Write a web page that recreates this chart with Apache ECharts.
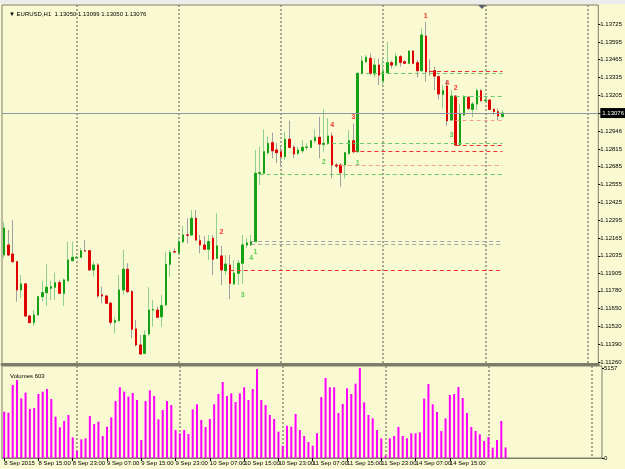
<!DOCTYPE html>
<html>
<head>
<meta charset="utf-8">
<title>EURUSD,H1</title>
<script src="https://cdn.jsdelivr.net/npm/echarts@6/dist/echarts.min.js"></script>
</head>
<body style="margin:0;background:#fafad2">
<div id="chart" style="width:625px;height:469px"></div>
<script>
// hourly bars, first bar 8 Sep 07:00, weekend skipped; chart shift leaves empty slots on the right
const DAYS = ['8 Sep', '9 Sep', '10 Sep', '11 Sep', '14 Sep', '15 Sep', '16 Sep'];
const FIRST_HOUR = 7;
const SLOTS = 140;

const OPEN = [
  1.12041, 1.12114, 1.12048, 1.11992, 1.11786, 1.11830, 1.11596, 1.11548, 1.11604, 1.11737,
  1.11766, 1.11798, 1.11806, 1.11839, 1.11762, 1.11854, 1.12000, 1.12021, 1.12024, 1.12072,
  1.12072, 1.11932, 1.11968, 1.11750, 1.11742, 1.11689, 1.11550, 1.11562, 1.11786, 1.11937,
  1.11774, 1.11502, 1.11385, 1.11324, 1.11465, 1.11640, 1.11640, 1.11591, 1.11677, 1.11973,
  1.12065, 1.12058, 1.12138, 1.12187, 1.12187, 1.12309, 1.12145, 1.12114, 1.12083, 1.12163,
  1.12017, 1.12034, 1.11927, 1.11968, 1.11830, 1.11908, 1.11981, 1.12114, 1.12114, 1.12138,
  1.12637, 1.12637, 1.12787, 1.12860, 1.12807, 1.12794, 1.12758, 1.12885, 1.12826, 1.12782,
  1.12801, 1.12826, 1.12826, 1.12874, 1.12899, 1.12848, 1.12855, 1.12909, 1.12697, 1.12697,
  1.12697, 1.12782, 1.12874, 1.12794, 1.13366, 1.13450, 1.13475, 1.13361, 1.13426, 1.13312,
  1.13370, 1.13443, 1.13426, 1.13487, 1.13450, 1.13439, 1.13528, 1.13443, 1.13385, 1.13638,
  1.13380, 1.13385, 1.13341, 1.13213, 1.13273, 1.13025, 1.13200, 1.12843, 1.13062, 1.13191,
  1.13103, 1.13142, 1.13239, 1.13166, 1.13171, 1.13103, 1.13086, 1.13050
];
const HIGH = [
  1.12282, 1.12223, 1.12296, 1.11997, 1.11895, 1.11837, 1.11604, 1.11640, 1.11742, 1.11854,
  1.11973, 1.11852, 1.11912, 1.11859, 1.11871, 1.12138, 1.12138, 1.12034, 1.12090, 1.12150,
  1.12078, 1.11992, 1.11981, 1.11810, 1.11750, 1.11701, 1.11591, 1.11895, 1.12078, 1.11981,
  1.11786, 1.11567, 1.11458, 1.11494, 1.11806, 1.11713, 1.11664, 1.11750, 1.12065, 1.12078,
  1.12090, 1.12174, 1.12252, 1.12309, 1.12369, 1.12369, 1.12187, 1.12180, 1.12187, 1.12187,
  1.12345, 1.12107, 1.12041, 1.12041, 1.12005, 1.12005, 1.12187, 1.12165, 1.12187, 1.12807,
  1.12831, 1.12957, 1.12903, 1.12933, 1.12858, 1.12843, 1.12940, 1.13020, 1.12843, 1.12831,
  1.12879, 1.12855, 1.12879, 1.12957, 1.13049, 1.13103, 1.13040, 1.12933, 1.12712, 1.12710,
  1.12794, 1.12952, 1.13001, 1.13370, 1.13492, 1.13499, 1.13511, 1.13475, 1.13475, 1.13475,
  1.13596, 1.13458, 1.13516, 1.13499, 1.13463, 1.13536, 1.13536, 1.13463, 1.13694, 1.13742,
  1.13468, 1.13414, 1.13353, 1.13280, 1.13317, 1.13244, 1.13207, 1.13142, 1.13207, 1.13200,
  1.13159, 1.13256, 1.13249, 1.13176, 1.13176, 1.13110, 1.13110, 1.13099
];
const LOW = [
  1.12019, 1.12034, 1.11986, 1.11701, 1.11725, 1.11591, 1.11543, 1.11523, 1.11601, 1.11701,
  1.11669, 1.11713, 1.11713, 1.11757, 1.11669, 1.11846, 1.11992, 1.12017, 1.12019, 1.12065,
  1.11924, 1.11883, 1.11725, 1.11689, 1.11684, 1.11531, 1.11470, 1.11555, 1.11750, 1.11762,
  1.11434, 1.11373, 1.11312, 1.11319, 1.11451, 1.11518, 1.11580, 1.11518, 1.11669, 1.11883,
  1.12053, 1.12053, 1.12126, 1.12126, 1.12180, 1.12145, 1.12053, 1.12078, 1.12005, 1.11895,
  1.12010, 1.11822, 1.11895, 1.11718, 1.11822, 1.11822, 1.11830, 1.12092, 1.12107, 1.12136,
  1.12551, 1.12632, 1.12770, 1.12746, 1.12712, 1.12697, 1.12734, 1.12819, 1.12746, 1.12770,
  1.12782, 1.12807, 1.12819, 1.12860, 1.12746, 1.12794, 1.12843, 1.12600, 1.12675, 1.12539,
  1.12600, 1.12770, 1.12782, 1.12790, 1.13353, 1.13443, 1.13353, 1.13336, 1.13280, 1.13280,
  1.13366, 1.13402, 1.13414, 1.13414, 1.13433, 1.13431, 1.13433, 1.13336, 1.13377, 1.13304,
  1.13346, 1.13244, 1.13176, 1.13110, 1.12981, 1.13020, 1.12836, 1.12836, 1.13054, 1.13098,
  1.13045, 1.13098, 1.13159, 1.13159, 1.13098, 1.13062, 1.13025, 1.13050
];
const CLOSE = [
  1.12238, 1.12041, 1.11992, 1.11786, 1.11830, 1.11596, 1.11548, 1.11604, 1.11737, 1.11766,
  1.11806, 1.11810, 1.11839, 1.11762, 1.11859, 1.12005, 1.12024, 1.12024, 1.12072, 1.12070,
  1.11932, 1.11968, 1.11742, 1.11742, 1.11689, 1.11550, 1.11562, 1.11786, 1.11937, 1.11774,
  1.11499, 1.11385, 1.11319, 1.11456, 1.11640, 1.11643, 1.11587, 1.11671, 1.11973, 1.12058,
  1.12063, 1.12138, 1.12187, 1.12185, 1.12309, 1.12150, 1.12114, 1.12083, 1.12138, 1.12010,
  1.12107, 1.11932, 1.11975, 1.11835, 1.11908, 1.11981, 1.12114, 1.12129, 1.12138, 1.12637,
  1.12641, 1.12794, 1.12855, 1.12801, 1.12787, 1.12758, 1.12885, 1.12826, 1.12777, 1.12807,
  1.12826, 1.12828, 1.12874, 1.12899, 1.12850, 1.12855, 1.12909, 1.12697, 1.12690, 1.12641,
  1.12787, 1.12874, 1.12794, 1.13366, 1.13455, 1.13482, 1.13366, 1.13426, 1.13353, 1.13377,
  1.13443, 1.13426, 1.13487, 1.13446, 1.13439, 1.13528, 1.13439, 1.13385, 1.13645, 1.13377,
  1.13377, 1.13346, 1.13215, 1.13239, 1.13020, 1.13200, 1.12843, 1.13069, 1.13195, 1.13110,
  1.13142, 1.13239, 1.13166, 1.13171, 1.13103, 1.13086, 1.13054, 1.13076
];
const VOLUME = [
  2653, 2596, 4183, 4469, 3419, 3744, 2808, 2865, 3667, 3801,
  3954, 3381, 2368, 1757, 2120, 2464, 1184, 420, 1070, 1127,
  2407, 1948, 2082, 1261, 1795, 2330, 3266, 4049, 3801, 3515,
  3725, 3323, 1031, 3266, 3878, 3553, 2216, 2750, 3266, 3037,
  1604, 1413, 1604, 1375, 2788, 3075, 2177, 1776, 2235, 3075,
  3667, 4355, 3553, 3705, 3209, 3705, 4049, 3323, 3954, 5100,
  3323, 3037, 2464, 2235, 1509, 707, 1853, 1795, 2521, 1604,
  1261, 917, 707, 1413, 3495, 4584, 4049, 4049, 2579, 3094,
  3992, 3667, 4259, 5157, 3190, 2464, 2273, 1604, 1127, 134,
  1127, 1261, 1776, 1261, 1127, 1413, 1413, 1471, 3400, 4240,
  3075, 2636, 1547, 2273, 3610, 3667, 4068, 3438, 2579, 1776,
  1547, 1356, 974, 1203, 592, 1031, 2120, 603
];

// right-hand scale labels as printed by the terminal
const PRICE_TICKS = [1.13725, 1.13595, 1.13465, 1.13335, 1.13205, 1.13075, 1.12946, 1.12815, 1.12685, 1.12555,
  1.12425, 1.12295, 1.12165, 1.12035, 1.11905, 1.11780, 1.11650, 1.11520, 1.11390, 1.11260];
const PRICE_MIN = 1.11246, PRICE_MAX = 1.13864;
const VOL_TICKS = [0, 5157];
const VOL_MAX = 5270;

// dashed level lines: price, first bar, kind
const LEVEL_PRICE = [1.13380, 1.13368, 1.13202, 1.13020, 1.12855, 1.12841, 1.12797, 1.12697, 1.12631, 1.12139, 1.12118, 1.11932];
const LEVEL_FROM = [100, 85, 106, 106, 77, 106, 82, 79, 60, 58, 58, 53];
const LEVEL_KIND = ['red', 'green', 'green', 'salmon', 'green', 'red', 'red', 'salmon', 'green', 'gray', 'gray', 'red'];

// wave count labels
const MARK_BAR = [99, 104, 106, 82, 77, 51, 105, 75, 83, 58, 59, 56];
const MARK_PRICE = [1.13783, 1.13295, 1.13258, 1.13047, 1.12989, 1.12209, 1.12918, 1.12717, 1.12714, 1.12021, 1.12065, 1.11750];
const MARK_TEXT = ['1', '4', '2', '3', '4', '2', '3', '2', '1', '4', '1', '3'];
const MARK_SIDE = ['down', 'down', 'down', 'down', 'down', 'down', 'up', 'up', 'up', 'up', 'up', 'up'];

const BG = '#fafad2';
const FRAME = '#7d7d6b';
const UP = '#15a015', DOWN = '#e00000';
const KIND_COLOR = {red: '#f03030', green: '#6ccc6c', salmon: '#f5a08a', gray: '#a8a8a8'};
const FONT = 'Liberation Sans';

// build time slots
let times = [];
for (let d = 0; d < DAYS.length && times.length < SLOTS; d++) {
  for (let h = (d === 0 ? FIRST_HOUR : 0); h < 24 && times.length < SLOTS; h++) {
    times.push(DAYS[d] + ' ' + (h < 10 ? '0' + h : h) + ':00');
  }
}
const isDayStart = (i, v) => / 00:00$/.test(v);
const isLabel = (i) => i % 8 === 0 && i < OPEN.length;

const chart = echarts.init(document.getElementById('chart'));

let wickData = OPEN.map((o, i) => [o, CLOSE[i], LOW[i], HIGH[i]]);
let bodyData = OPEN.map((o, i) => [o, CLOSE[i], Math.min(o, CLOSE[i]), Math.max(o, CLOSE[i])]);

let levelLines = LEVEL_PRICE.map((p, i) => [
  {coord: [LEVEL_FROM[i], p], lineStyle: {color: KIND_COLOR[LEVEL_KIND[i]]}},
  {coord: [OPEN.length - 1, p]}
]);

let marks = MARK_TEXT.map((t, i) => ({
  value: [MARK_BAR[i], MARK_PRICE[i], t],
  label: {color: MARK_SIDE[i] === 'up' ? '#30c030' : '#ee0000'}
}));

const splitLine = {
  show: true,
  interval: isDayStart,
  alignWithLabel: true,
  lineStyle: {color: '#8c8c7c', type: [2, 2], width: 1.5}
};

chart.setOption({
  animation: false,
  backgroundColor: BG,
  textStyle: {fontFamily: FONT},
  title: [
    {text: '\u25BC EURUSD,H1  1.13050 1.13099 1.13050 1.13076', left: 4, top: 6,
      textStyle: {fontSize: 6, fontWeight: 'normal', color: '#000'}},
    {text: 'Volumes 603', left: 5, top: 368,
      textStyle: {fontSize: 6, fontWeight: 'normal', color: '#000'}}
  ],
  graphic: [
    {type: 'rect', shape: {x: 0, y: 0, width: 625, height: 4}, style: {fill: '#ececec'}, z: -1},
    {type: 'polygon', shape: {points: [[478, 5], [486, 5], [482, 9]]}, style: {fill: '#5a6070'}}
  ],
  grid: [
    {left: 2, right: 23, top: 5, height: 359, show: true, borderColor: FRAME, borderWidth: 1},
    {left: 2, right: 23, top: 366, height: 92, show: true, borderColor: FRAME, borderWidth: 1}
  ],
  xAxis: [
    {type: 'category', gridIndex: 0, data: times, boundaryGap: true,
      axisLine: {show: true, lineStyle: {color: FRAME, width: 3}},
      axisTick: {show: false}, axisLabel: {show: false}, splitLine: splitLine},
    {type: 'category', gridIndex: 1, data: times, boundaryGap: true,
      axisLine: {show: true, lineStyle: {color: FRAME, width: 1}},
      axisTick: {show: true, alignWithLabel: true, interval: isLabel, length: 3, lineStyle: {color: '#000'}},
      axisLabel: {interval: isLabel, align: 'left', margin: 2, fontSize: 6, color: '#000',
        formatter: (v, i) => i === 0 ? '8 Sep 2015' : v},
      splitLine: splitLine}
  ],
  yAxis: [
    {type: 'value', gridIndex: 0, position: 'right', min: PRICE_MIN, max: PRICE_MAX,
      splitLine: {show: false}, axisLine: {show: false},
      axisTick: {show: true, customValues: PRICE_TICKS, length: 2, lineStyle: {color: '#000'}},
      axisLabel: {customValues: PRICE_TICKS, formatter: v => v.toFixed(5), margin: 2, fontSize: 6, color: '#000'}},
    {type: 'value', gridIndex: 1, position: 'right', min: 0, max: VOL_MAX,
      splitLine: {show: false}, axisLine: {show: false},
      axisTick: {show: true, customValues: VOL_TICKS, length: 2, lineStyle: {color: '#000'}},
      axisLabel: {customValues: VOL_TICKS, formatter: v => String(v), margin: 2, fontSize: 6, color: '#000'}}
  ],
  series: [
    {
      name: 'wicks', type: 'candlestick', xAxisIndex: 0, yAxisIndex: 0, data: wickData,
      barWidth: 2,
      itemStyle: {color: '#8fcf8f', color0: '#a0a0a0', borderColor: '#8fcf8f', borderColor0: '#a0a0a0', borderWidth: 1},
      markLine: {
        silent: true, symbol: 'none', animation: false, precision: 5,
        label: {show: false},
        lineStyle: {type: [4, 3], width: 1.2},
        data: levelLines
      }
    },
    {
      name: 'bodies', type: 'candlestick', xAxisIndex: 0, yAxisIndex: 0, data: bodyData,
      barWidth: 2,
      itemStyle: {color: UP, color0: DOWN, borderColor: UP, borderColor0: DOWN, borderWidth: 1},
      markLine: {
        silent: true, symbol: 'none', animation: false, precision: 5,
        lineStyle: {color: '#8896a6', type: 'solid', width: 1},
        label: {show: true, position: 'end', distance: 2, formatter: p => Number(p.value).toFixed(5),
          backgroundColor: '#000', color: '#fff', fontSize: 6, padding: [2, 2]},
        data: [{yAxis: CLOSE[CLOSE.length - 1]}]
      }
    },
    {
      name: 'marks', type: 'scatter', xAxisIndex: 0, yAxisIndex: 0, data: marks,
      symbolSize: 0, silent: true,
      label: {show: true, position: 'inside', formatter: p => p.data.value[2], fontSize: 7, fontWeight: 'bold'}
    },
    {
      name: 'Volumes', type: 'bar', xAxisIndex: 1, yAxisIndex: 1, data: VOLUME,
      barWidth: 2, itemStyle: {color: '#ff00ff'}
    }
  ]
});
</script>
</body>
</html>
